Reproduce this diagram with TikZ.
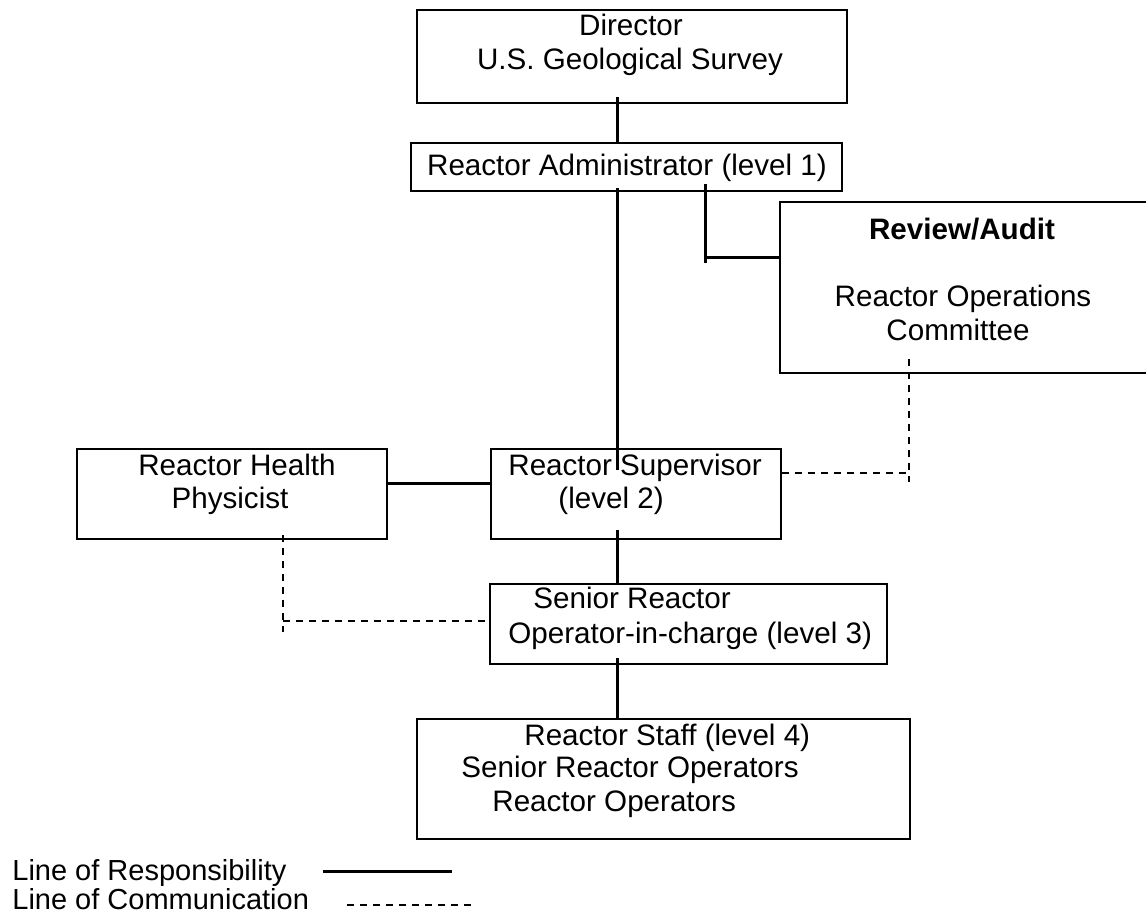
\documentclass[tikz,border=0pt]{standalone}
\usepackage{fontspec}
\setmainfont{Liberation Sans}
\usetikzlibrary{fit,calc}
\begin{document}
\begin{tikzpicture}[x=0.5pt,y=-0.5pt,
  box/.style={draw=black,line width=0.9pt,inner sep=0pt,rectangle},
  txt/.style={inner sep=0pt,anchor=base,font=\fontsize{14.8}{17}\selectfont},
  txtw/.style={txt,anchor=base west},
  resp/.style={draw=black,line width=1.5pt},
  comm/.style={draw=black,line width=0.95pt,dash pattern=on 3.7pt off 2.8pt}]
\useasboundingbox (0,0) rectangle (1146,915);
\clip (0,0) rectangle (1146,915);
\fill[white] (0,0) rectangle (1146,915);
% boxes
\node[box,fit={(417,10) (847,103)}] (dir) {};
\node[box,fit={(411,143) (842,191)}] (adm) {};
\node[box,fit={(780,202) (1156,373)}] (rev) {};
\node[box,fit={(77,449) (387,539)}] (hp) {};
\node[box,fit={(491,449) (781,539)}] (sup) {};
\node[box,fit={(490,584) (887,664)}] (sro) {};
\node[box,fit={(417,719) (910,839)}] (staff) {};
% texts
\node[txt] (t1) at (631,36) {Director};
\node[txt] (t2) at (630,70) {U.S. Geological Survey};
\node[txt] (t3) at (627,176) {Reactor Administrator (level 1)};
\node[txt,font=\fontsize{14.8}{17}\selectfont\bfseries] (t4) at (962,239) {Review/Audit};
\node[txt] (t5) at (963,306) {Reactor Operations};
\node[txt] (t6) at (958,340) {Committee};
\node[txt] (t7) at (237,475) {Reactor Health};
\node[txt] (t8) at (230,508) {Physicist};
\node[txtw] (t9) at (508,475) {Reactor Supervisor};
\node[txtw] (t10) at (558,508) {(level 2)};
\node[txtw] (t11) at (533,608) {Senior Reactor};
\node[txtw] (t12) at (508,643) {Operator-in-charge (level 3)};
\node[txtw] (t13) at (524,745) {Reactor Staff (level 4)};
\node[txtw] (t14) at (461,777) {Senior Reactor Operators};
\node[txtw] (t15) at (492,811) {Reactor Operators};
\node[txtw,font=\fontsize{14.5}{17}\selectfont] (t16) at (12,880) {Line of Responsibility};
\node[txtw,font=\fontsize{14.5}{17}\selectfont] (t17) at (12,909) {Line of Communication};
% coordinates
\coordinate (x1) at (617,0);
\coordinate (dirin) at (617,97);
\coordinate (admin) at (617,188);
\coordinate (supin) at (617,470);
\coordinate (supbot) at (617,530);
\coordinate (sroin) at (617,658);
\coordinate (ra) at (705,184);
\coordinate (rb) at (705,263);
\coordinate (rc) at (705,257);
\coordinate (rd) at (909,359);
\coordinate (re) at (909,482);
\coordinate (hpx) at (283,535);
\coordinate (hpb) at (283,632);
% responsibility lines
\draw[resp] (dirin) -- (adm.north -| x1);
\draw[resp] (admin) -- (supin);
\draw[resp] (supbot) -- (sro.north -| x1);
\draw[resp] (sroin) -- (staff.north -| x1);
\draw[resp] (ra) -- (rb);
\draw[resp] (rc) -- (rev.west |- rc);
\draw[resp] (hp.east |- 0,483) -- (sup.west |- 0,483);
% communication lines
\draw[comm] (rd) -- (re);
\draw[comm] (sup.east |- 0,473) -- (909,473);
\draw[comm] (hpx) -- (hpb);
\draw[comm] (283,621) -- (sro.west |- 0,621);
% legend
\coordinate (l1a) at (323,871);
\coordinate (l1b) at (452,871);
\coordinate (l2a) at (347,905);
\coordinate (l2b) at (472,905);
\draw[resp] (l1a) -- (l1b);
\draw[comm] (l2a) -- (l2b);
\end{tikzpicture}
\end{document}
